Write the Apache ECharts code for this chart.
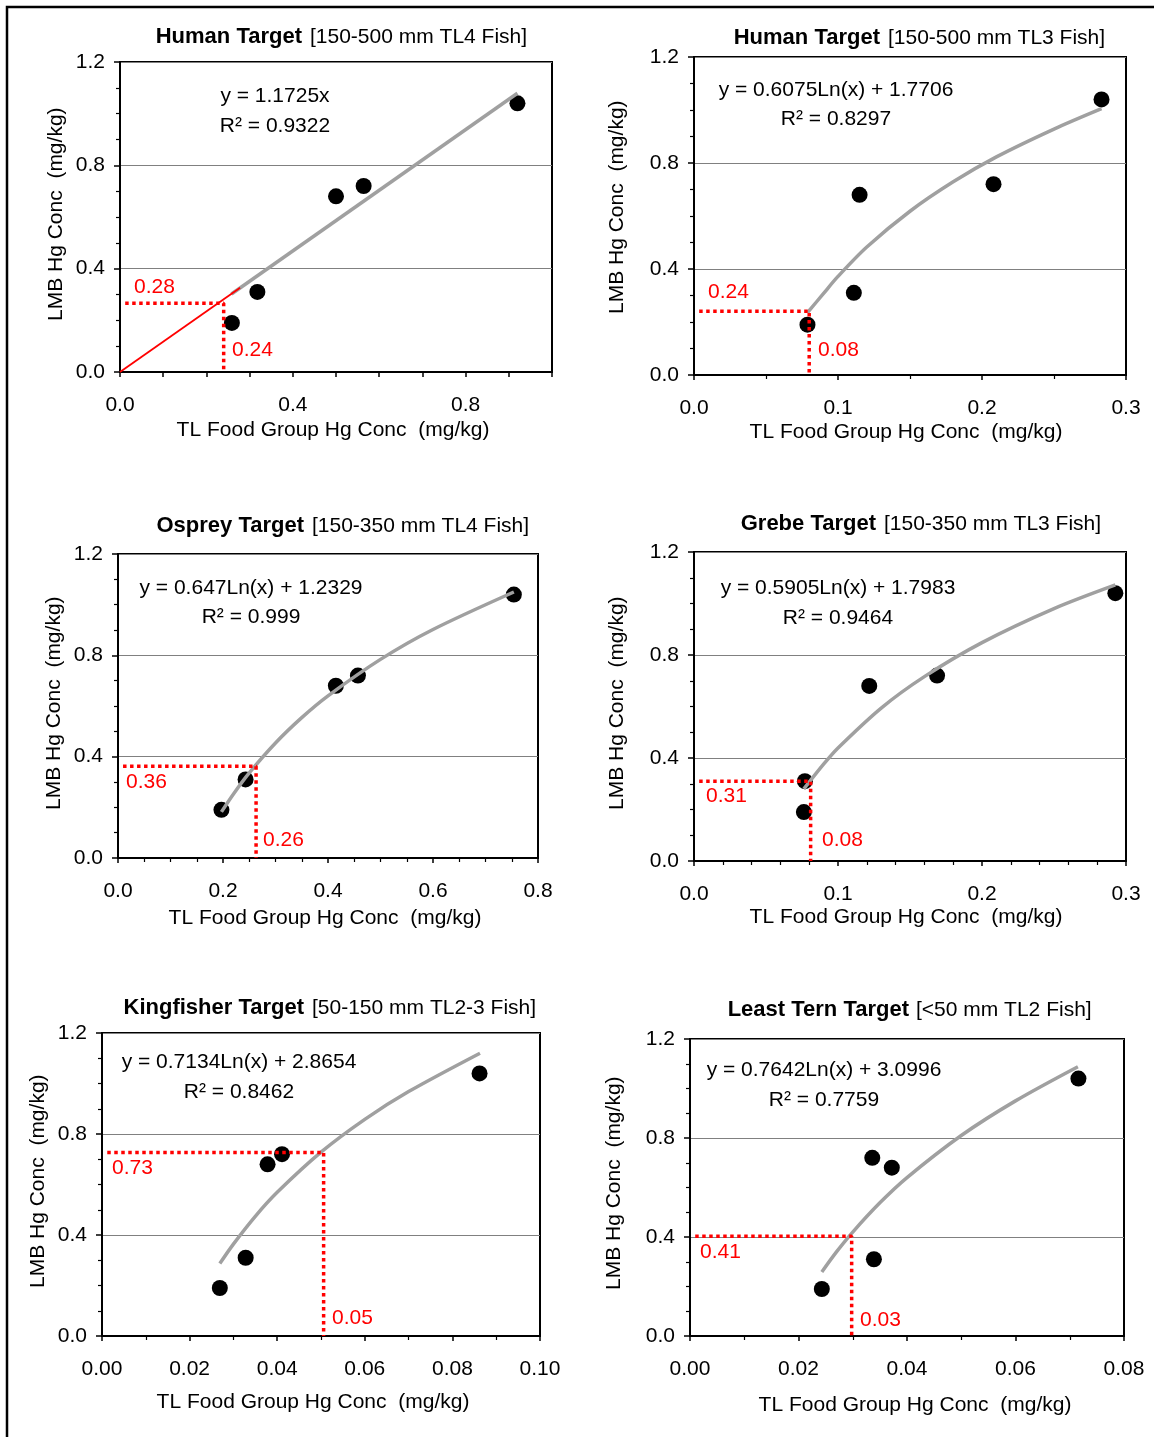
<!DOCTYPE html>
<html><head><meta charset="utf-8">
<script src="https://cdn.jsdelivr.net/npm/echarts@6/dist/echarts.min.js"></script>
<style>html,body{margin:0;padding:0;background:#fff}#c{width:1154px;height:1437px}</style>
</head><body><div id="c"></div>
<script>
// ---- data ----
const lmbHg = [0.19, 0.31, 0.68, 0.72, 1.04];           // LMB Hg conc, same 5 fish groups in every panel

const humanTL4X   = [0.259, 0.318, 0.500, 0.564, 0.920];
const humanTL3X   = [0.0788, 0.111, 0.115, 0.208, 0.283];
const ospreyX     = [0.197, 0.243, 0.415, 0.457, 0.754];
const grebeX      = [0.0763, 0.077, 0.1217, 0.1688, 0.2926];
const kingfisherX = [0.0269, 0.0328, 0.0378, 0.0411, 0.0862];
const leastTernX  = [0.0243, 0.0339, 0.0372, 0.0336, 0.0716];

const trendHumanTL4   = [[0.258, 0.302], [0.92, 1.079]];
const extHumanTL4     = [[0, 0], [0.278, 0.326]];
const trendHumanTL3   = [[0.0788,0.235],[0.09,0.308],[0.10,0.372],[0.12,0.483],[0.15,0.618],[0.18,0.729],[0.21,0.823],[0.25,0.928],[0.283,1.005]];
const trendOsprey     = [[0.197,0.182],[0.22,0.253],[0.25,0.336],[0.30,0.454],[0.35,0.554],[0.40,0.640],[0.50,0.784],[0.60,0.902],[0.754,1.05]];
const trendGrebe      = [[0.0763,0.280],[0.09,0.376],[0.10,0.439],[0.13,0.594],[0.16,0.716],[0.20,0.848],[0.25,0.980],[0.2926,1.072]];
const trendKingfisher = [[0.0269,0.287],[0.030,0.364],[0.035,0.474],[0.040,0.569],[0.050,0.728],[0.060,0.858],[0.070,0.968],[0.0863,1.12]];
const trendLeastTern  = [[0.0243,0.259],[0.027,0.340],[0.030,0.420],[0.035,0.538],[0.040,0.640],[0.050,0.810],[0.060,0.950],[0.0715,1.088]];

// target guide points [x, y]
const guideHumanTL4   = [0.24, 0.266];
const guideHumanTL3   = [0.080, 0.241];
const guideOsprey     = [0.263, 0.362];
const guideGrebe      = [0.081, 0.310];
const guideKingfisher = [0.0506, 0.727];
const guideLeastTern  = [0.0298, 0.403];

const titlesBold   = ['Human Target', 'Human Target', 'Osprey Target', 'Grebe Target', 'Kingfisher Target', 'Least Tern Target'];
const titlesNormal = ['[150-500 mm TL4 Fish]', '[150-500 mm TL3 Fish]', '[150-350 mm TL4 Fish]', '[150-350 mm TL3 Fish]', '[50-150 mm TL2-3 Fish]', '[<50 mm TL2 Fish]'];
const equations    = ['y = 1.1725x', 'y = 0.6075Ln(x) + 1.7706', 'y = 0.647Ln(x) + 1.2329', 'y = 0.5905Ln(x) + 1.7983', 'y = 0.7134Ln(x) + 2.8654', 'y = 0.7642Ln(x) + 3.0996'];
const rSquared     = ['R² = 0.9322', 'R² = 0.8297', 'R² = 0.999', 'R² = 0.9464', 'R² = 0.8462', 'R² = 0.7759'];
const guideYLabels = ['0.28', '0.24', '0.36', '0.31', '0.73', '0.41'];
const guideXLabels = ['0.24', '0.08', '0.26', '0.08', '0.05', '0.03'];
const xAxisMax     = [1.0, 0.3, 0.8, 0.3, 0.10, 0.08];
const xAxisStep    = [0.4, 0.1, 0.2, 0.1, 0.02, 0.02];
const yAxisMax     = 1.2;
const yAxisStep    = 0.4;
const xTitle = 'TL Food Group Hg Conc  (mg/kg)';
const yTitle = 'LMB Hg Conc  (mg/kg)';

// ---- layout (pixels) ----
const FONT = '"Liberation Sans", Arial, sans-serif';
const panels = [
  { x: humanTL4X,   trend: trendHumanTL4,   guide: guideHumanTL4,   ext: extHumanTL4,
    grid: {left:120, top:62, width:432, height:310}, minorSplit: 0, minorStep: 0.1, dec: 1,
    title: {y:37, boldEnd:302, normStart:310}, eq: {cx:275, y1:96, y2:126},
    lblY: {x:134, y:287}, lblX: {x:232, y:350}, yt: {x:56, y:321}, xt: {x:333, y:430} },
  { x: humanTL3X,   trend: trendHumanTL3,   guide: guideHumanTL3,
    grid: {left:694, top:57, width:432, height:318}, minorSplit: 2, dec: 1,
    title: {y:38, boldEnd:880, normStart:888}, eq: {cx:836, y1:90, y2:119},
    lblY: {x:708, y:292}, lblX: {x:818, y:350}, yt: {x:617, y:314}, xt: {x:906, y:432} },
  { x: ospreyX,     trend: trendOsprey,     guide: guideOsprey,
    grid: {left:118, top:554, width:420, height:304}, minorSplit: 4, dec: 1,
    title: {y:526, boldEnd:304, normStart:312}, eq: {cx:251, y1:588, y2:617},
    lblY: {x:126, y:782}, lblX: {x:263, y:840}, yt: {x:54, y:810}, xt: {x:325, y:918} },
  { x: grebeX,      trend: trendGrebe,      guide: guideGrebe,
    grid: {left:694, top:552, width:432, height:309}, minorSplit: 5, dec: 1,
    title: {y:524, boldEnd:876, normStart:884}, eq: {cx:838, y1:588, y2:618},
    lblY: {x:706, y:796}, lblX: {x:822, y:840}, yt: {x:617, y:810}, xt: {x:906, y:917} },
  { x: kingfisherX, trend: trendKingfisher, guide: guideKingfisher,
    grid: {left:102, top:1033, width:438, height:303}, minorSplit: 2, dec: 2,
    title: {y:1008, boldEnd:304, normStart:312}, eq: {cx:239, y1:1062, y2:1092},
    lblY: {x:112, y:1168}, lblX: {x:332, y:1318}, yt: {x:38, y:1288}, xt: {x:313, y:1402} },
  { x: leastTernX,  trend: trendLeastTern,  guide: guideLeastTern,
    grid: {left:690, top:1039, width:434, height:297}, minorSplit: 2, dec: 2,
    title: {y:1010, boldEnd:909, normStart:916}, eq: {cx:824, y1:1070, y2:1100},
    lblY: {x:700, y:1252}, lblX: {x:860, y:1320}, yt: {x:614, y:1290}, xt: {x:915, y:1405} }
];

const grids = [], xAxes = [], yAxes = [], series = [], graphics = [];

function txt(text, x, y, opts) {
  return {
    type: 'text', x: x, y: y, z: 100,
    style: Object.assign({ text: text, font: '21px ' + FONT, fill: '#000', align: 'center', verticalAlign: 'middle' }, opts || {})
  };
}

panels.forEach((p, i) => {
  grids.push(Object.assign({ show: true, borderColor: '#000', borderWidth: 2, backgroundColor: '#fff', containLabel: false }, p.grid));

  const step = xAxisStep[i];
  const isP1 = (p.minorSplit === 0);
  xAxes.push({
    type: 'value', gridIndex: i, min: 0, max: xAxisMax[i],
    interval: isP1 ? p.minorStep : step,
    axisLine: { show: true, onZero: false, lineStyle: { color: '#000', width: 2 } },
    axisTick: { show: true, length: 5, lineStyle: { color: '#000', width: 1.5 } },
    minorTick: { show: !isP1, splitNumber: p.minorSplit || 2, length: 4, lineStyle: { color: '#000', width: 1.2 } },
    splitLine: { show: false },
    axisLabel: {
      margin: 23, color: '#000', fontSize: 21, fontFamily: FONT,
      formatter: v => {
        const k = v / step;
        return Math.abs(k - Math.round(k)) < 1e-6 ? v.toFixed(p.dec) : '';
      }
    }
  });
  yAxes.push({
    type: 'value', gridIndex: i, min: 0, max: yAxisMax, interval: yAxisStep,
    axisLine: { show: true, onZero: false, lineStyle: { color: '#000', width: 2 } },
    axisTick: { show: true, length: 6, lineStyle: { color: '#000', width: 1.5 } },
    minorTick: { show: true, splitNumber: 4, length: 4, lineStyle: { color: '#000', width: 1.2 } },
    splitLine: { show: true, lineStyle: { color: '#808080', width: 1 } },
    axisLabel: { margin: 15, color: '#000', fontSize: 21, fontFamily: FONT, formatter: v => v.toFixed(1) }
  });

  series.push({
    type: 'scatter', xAxisIndex: i, yAxisIndex: i, z: 2,
    symbol: 'circle', symbolSize: 16, itemStyle: { color: '#000', opacity: 1 },
    data: p.x.map((xv, k) => [xv, lmbHg[k]]), silent: true
  });
  series.push({
    type: 'line', xAxisIndex: i, yAxisIndex: i, z: 3, smooth: p.trend.length > 2 ? 0.3 : false,
    symbol: 'none', lineStyle: { color: '#a0a0a0', width: 3.5 }, data: p.trend, silent: true
  });
  if (p.ext) {
    series.push({
      type: 'line', xAxisIndex: i, yAxisIndex: i, z: 3,
      symbol: 'none', lineStyle: { color: '#ff0000', width: 1.8 }, data: p.ext, silent: true
    });
  }
  series.push({
    type: 'line', xAxisIndex: i, yAxisIndex: i, z: 4,
    symbol: 'none', lineStyle: { color: '#ff0000', width: 3.5, type: [3.5, 3.5], cap: 'butt' },
    data: [[0.012 * xAxisMax[i], p.guide[1]], [p.guide[0], p.guide[1]], [p.guide[0], 0]], silent: true
  });

  // texts
  graphics.push(txt(titlesBold[i], p.title.boldEnd, p.title.y, { font: 'bold 22px ' + FONT, align: 'right' }));
  graphics.push(txt(titlesNormal[i], p.title.normStart, p.title.y, { align: 'left' }));
  graphics.push(txt(equations[i], p.eq.cx, p.eq.y1));
  graphics.push(txt(rSquared[i], p.eq.cx, p.eq.y2));
  graphics.push(txt(guideYLabels[i], p.lblY.x, p.lblY.y, { align: 'left', fill: '#ff0000' }));
  graphics.push(txt(guideXLabels[i], p.lblX.x, p.lblX.y, { align: 'left', fill: '#ff0000' }));
  graphics.push(txt(xTitle, p.xt.x, p.xt.y));
  const yt = txt(yTitle, p.yt.x, p.yt.y, { align: 'left' });
  yt.rotation = Math.PI / 2;
  graphics.push(yt);
});

// figure frame (left and top edges visible)
graphics.push({ type: 'rect', z: 100, shape: { x: 7, y: 7, width: 1300, height: 1600 },
  style: { fill: 'none', stroke: '#000', lineWidth: 2.5 } });

const chart = echarts.init(document.getElementById('c'), null, { renderer: 'canvas' });
chart.setOption({
  animation: false,
  backgroundColor: '#fff',
  grid: grids, xAxis: xAxes, yAxis: yAxes, series: series,
  graphic: { elements: graphics }
});
</script></body></html>
